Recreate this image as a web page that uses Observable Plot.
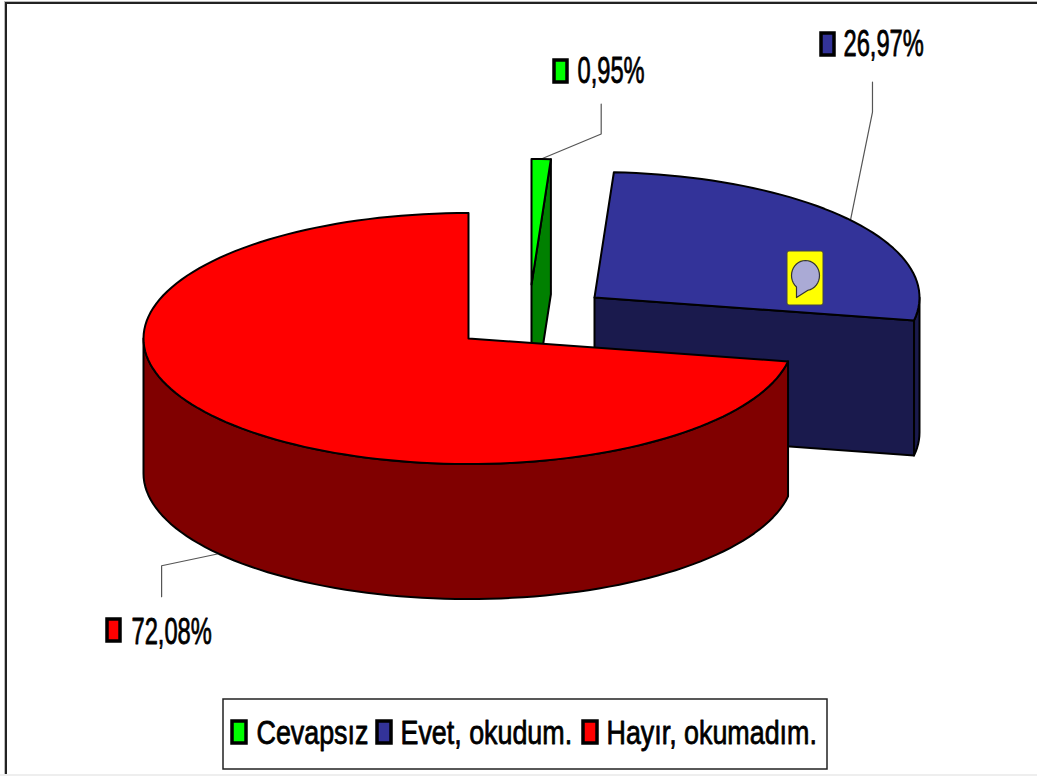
<!DOCTYPE html>
<html>
<head>
<meta charset="utf-8">
<script src="https://cdn.jsdelivr.net/npm/d3@7"></script>
<script src="https://cdn.jsdelivr.net/npm/@observablehq/plot@0.6"></script>
<style>html,body{margin:0;padding:0;background:#fff}svg{display:block}</style>
</head>
<body>
<div id="chart"></div>
<script>
const categories = ["Cevapsız", "Evet, okudum.", "Hayır, okumadım."];
const shares = [0.95, 26.97, 72.08];
const shareLabels = ["0,95%", "26,97%", "72,08%"];
const topColors = ["#00ff00", "#333399", "#ff0000"];
const wallColors = ["#008000", "#1a1a4d", "#800000"];

// pie layout, in the chart's own pixel-sized units
const rx = 325, ry = 125.5, depth = 135;
const apex = [[531, 284], [594, 297], [468, 338]];
// leader: offset from each slice's mid-arc to the elbow and the end
const leaderBends = [[[60, -25], [60, -55]], [[22, -108], [22, -138]], [[-57, 12], [-57, 43]]];
const labelPos = [[577, 82], [843, 55], [131, 643]];
const swatchPos = [[554, 60], [821, 33], [107, 619]];
const legendSwatchX = [231, 376, 582];
const legendTextX = [256, 400, 606];

// slices run clockwise from north in data order
const total = d3.sum(shares);
let acc = 0;
const slices = categories.map((c, i) => {
  const a0 = acc / total * 360;
  acc += shares[i];
  return {i, a0, a1: acc / total * 360};
});
const rad = a => a * Math.PI / 180;
const onRim = (s, a, dz = 0) => [apex[s.i][0] + rx * Math.sin(rad(a)), apex[s.i][1] - ry * Math.cos(rad(a)) + dz];
const arc = (s, from, to, dz = 0) => {
  const n = Math.max(2, Math.ceil(Math.abs(to - from) / 2));
  return d3.range(n + 1).map(k => onRim(s, from + (to - from) * k / n, dz));
};
const closed = (id, color, pts) => [...pts, pts[0]].map(p => ({id, color, x: p[0], y: p[1]}));

const sideOf = k => {
  const s = slices[k], A = apex[k], e = onRim(s, s.a1);
  if (k === 0) return closed("w0", wallColors[0], [A, e, [e[0], e[1] + depth], [A[0], A[1] + depth]]);
  if (k === 1) return [
    ...closed("c1", wallColors[1], [A, e, [e[0], e[1] + depth], [A[0], A[1] + depth]]),
    ...closed("w1", wallColors[1], [...arc(s, 90, s.a1), ...arc(s, s.a1, 90, depth)])
  ];
  return closed("w2", wallColors[2], [...arc(s, s.a0, 270), ...arc(s, 270, s.a0, depth)]);
};
const topOf = k => {
  const s = slices[k];
  return closed(`t${k}`, topColors[k], [apex[k], ...arc(s, s.a0, s.a1)]);
};
const midOf = k => onRim(slices[k], (slices[k].a0 + slices[k].a1) / 2, k === 2 ? depth : 0);

const leaders = [0, 1, 2].flatMap(k => {
  const m = midOf(k);
  return [[0, 0], ...leaderBends[k]].map(o => ({k, x: m[0] + o[0], y: m[1] + o[1]}));
});

const squeeze = sx => (index, scales, values, dims, ctx, next) => {
  const g = next(index, scales, values, dims, ctx);
  d3.select(g).selectAll("text").attr("transform", function () {
    return this.getAttribute("transform") + ` scale(${sx},1)`;
  });
  return g;
};

const calloutRows = categories.map((c, i) => ({
  label: shareLabels[i], color: topColors[i],
  tx: labelPos[i][0], ty: labelPos[i][1],
  sx1: swatchPos[i][0], sy1: swatchPos[i][1],
  sx2: swatchPos[i][0] + 13, sy2: swatchPos[i][1] + 22
}));
const legendRows = categories.map((c, i) => ({
  name: c, color: topColors[i],
  sx1: legendSwatchX[i] + 1, sx2: legendSwatchX[i] + 15,
  tx: legendTextX[i]
}));

// comment bubble on the blue slice
const bubblePts = [...d3.range(0, 320, 10).map(a => [805 + 14 * Math.cos(rad(a + 130)), 275 + 15 * Math.sin(rad(a + 130))]), [796, 297]];
const bubble = closed("b", "#aaaad5", bubblePts);

const pieStyle = {x: "x", y: "y", z: "id", fill: "color", stroke: "#000", strokeWidth: 2, strokeLinejoin: "round"};

const chart = Plot.plot({
  width: 1037, height: 776,
  margin: 0,
  x: {domain: [0, 1037], range: [0, 1037], axis: null},
  y: {domain: [0, 776], range: [0, 776], axis: null},
  color: {type: "identity"},
  style: {background: "#fff", overflow: "visible"},
  marks: [
    Plot.rect([0], {x1: 0, x2: 1037, y1: 774, y2: 776, fill: "#eeeeee"}),
    Plot.rect([0], {x1: 4, x2: 6, y1: 2, y2: 774, fill: "#bbbbbb"}),
    Plot.rect([0], {x1: 4, x2: 1037, y1: 1, y2: 3, fill: "#bbbbbb"}),
    Plot.rect([0], {x1: 5, x2: 7, y1: 2, y2: 774, fill: "#222222"}),
    Plot.rect([0], {x1: 5, x2: 1037, y1: 2, y2: 4, fill: "#222222"}),
    Plot.line(leaders, {x: "x", y: "y", z: "k", stroke: "#555", strokeWidth: 1.2}),
    Plot.line(sideOf(1), pieStyle),
    Plot.line(topOf(1), pieStyle),
    Plot.rect([0], {x1: 787, x2: 823, y1: 251, y2: 305, fill: "#ffff00", stroke: "#444", strokeWidth: 1, rx: 2}),
    Plot.line(bubble, {...pieStyle, stroke: "#333", strokeWidth: 1.2}),
    Plot.line(sideOf(0), pieStyle),
    Plot.line(topOf(0), pieStyle),
    Plot.line(sideOf(2), pieStyle),
    Plot.line(topOf(2), pieStyle),
    Plot.rect(calloutRows, {x1: "sx1", x2: "sx2", y1: "sy1", y2: "sy2", fill: "color", stroke: "#000", strokeWidth: 3.5}),
    Plot.text(calloutRows, {x: "tx", y: "ty", text: "label", textAnchor: "start", lineAnchor: "bottom", fontFamily: "Liberation Sans", fontSize: 37, fill: "#000", stroke: "#000", strokeWidth: 0.8, render: squeeze(0.64)}),
    Plot.rect([0], {x1: 223, x2: 827, y1: 699, y2: 769, fill: "#fff", stroke: "#222", strokeWidth: 1.5}),
    Plot.rect(legendRows, {x1: "sx1", x2: "sx2", y1: 721, y2: 743, fill: "color", stroke: "#000", strokeWidth: 3.5}),
    Plot.text(legendRows, {x: "tx", y: 743, text: "name", textAnchor: "start", lineAnchor: "bottom", fontFamily: "Liberation Sans", fontSize: 34, fill: "#000", stroke: "#000", strokeWidth: 0.8, render: squeeze(0.79)})
  ]
});
document.getElementById("chart").append(chart);
</script>
</body>
</html>
